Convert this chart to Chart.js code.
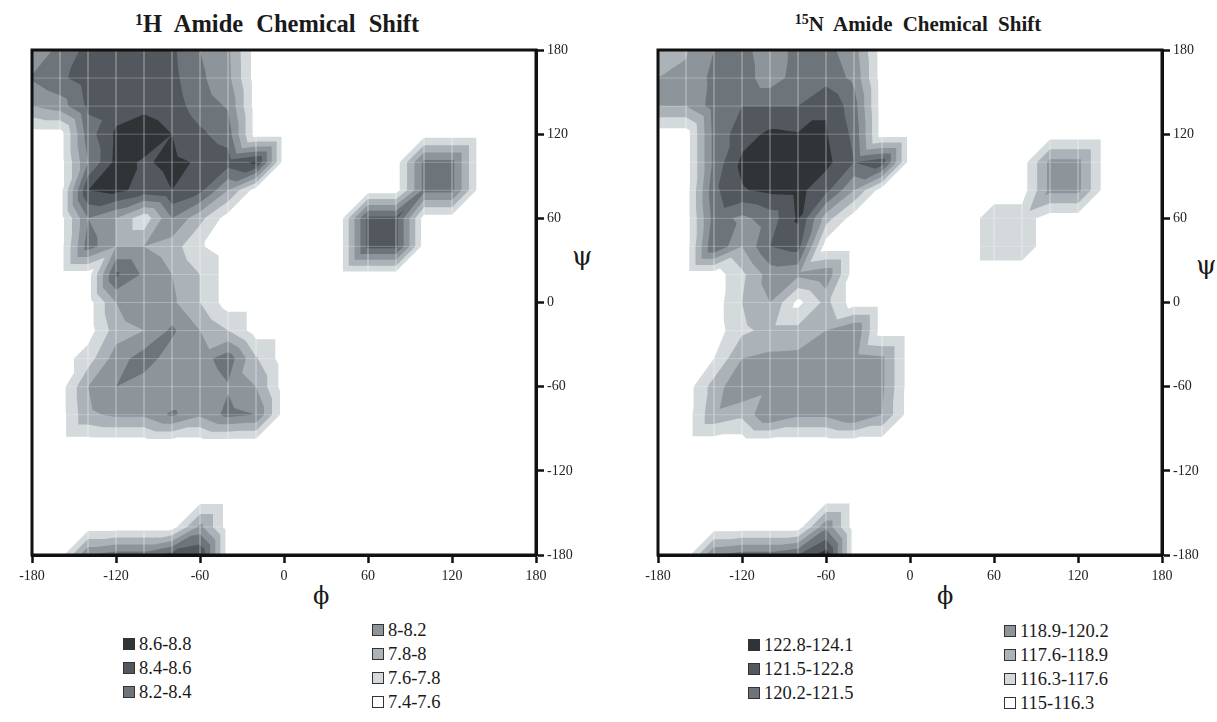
<!DOCTYPE html>
<html>
<head>
<meta charset="utf-8">
<script src="https://cdn.jsdelivr.net/npm/chart.js@4.4.1/dist/chart.umd.min.js"></script>
<style>
  body { margin: 0; background: #fff; width: 1217px; height: 722px; overflow: hidden; position: relative;
         font-family: "Liberation Serif", "Times New Roman", serif; color: #1a1a1a; }
  canvas { position: absolute; top: 0; }
  .title { position: absolute; width: 560px; text-align: center; font-weight: bold; white-space: pre; }
  .title sup { vertical-align: 7px; line-height: 0; }
  .sym { position: absolute; line-height: 1; font-family: "DejaVu Serif", "Liberation Serif", serif; }
  .lg { position: absolute; font-size: 18.5px; line-height: 18px; white-space: nowrap; }
  .lg span { display: inline-block; width: 10px; height: 10px; border: 1px solid #333; margin-right: 4px; vertical-align: 0px; }
</style>
</head>
<body>
<div class="title" style="left:-3px;top:12px;font-size:24.5px;line-height:24px;word-spacing:7px"><sup style="font-size:16px">1</sup>H Amide Chemical Shift</div>
<div class="title" style="left:638px;top:14px;font-size:21px;line-height:21px;word-spacing:5px"><sup style="font-size:14px">15</sup>N Amide Chemical Shift</div>
<div class="sym" style="left:313px;top:584px;font-size:24px">ϕ</div>
<div class="sym" style="left:937px;top:584px;font-size:24px">ϕ</div>
<div class="sym" style="left:572px;top:243px;font-size:26px">ψ</div>
<div class="sym" style="left:1196px;top:252px;font-size:26px">ψ</div>
<canvas id="hChart" width="591" height="600" style="left:0"></canvas>
<canvas id="nChart" width="591" height="600" style="left:626px"></canvas>
<script>
// grid nodes (degrees)
const phiValues = [-180,-160,-140,-120,-100,-80,-60,-40,-20,0,20,40,60,80,100,120,140,160,180]
const psiValues = [180,160,140,120,100,80,60,40,20,0,-20,-40,-60,-80,-100,-120,-140,-160,-180]

// contour band limits + legend text
const hEdges = [7.4, 7.6, 7.8, 8.0, 8.2, 8.4, 8.6, 8.8]
const nEdges = [115, 116.3, 117.6, 118.9, 120.2, 121.5, 122.8, 124.1]
const hLabels = ['7.4-7.6', '7.6-7.8', '7.8-8', '8-8.2', '8.2-8.4', '8.4-8.6', '8.6-8.8']
const nLabels = ['115-116.3', '116.3-117.6', '117.6-118.9', '118.9-120.2', '120.2-121.5', '121.5-122.8', '122.8-124.1']
const bandColors = ['#ffffff', '#d4d9dc', '#abb3b8', '#8d959a', '#6e757a', '#52585d', '#2f3437']

// 1H shift (ppm) at each node, rows = psi 180 .. -180, cols = phi -180 .. 180
const hShift = [
  [8.04,8.26,8.46,8.46,8.46,8.44,8.20,8.04,7.5,7.5,7.5,7.5,7.5,7.5,7.5,7.5,7.5,7.5,7.5],
  [8.22,8.36,8.50,8.50,8.50,8.46,8.24,8.06,7.5,7.5,7.5,7.5,7.5,7.5,7.5,7.5,7.5,7.5,7.5],
  [8.00,8.10,8.44,8.50,8.56,8.50,8.30,8.18,7.5,7.5,7.5,7.5,7.5,7.5,7.5,7.5,7.5,7.5,7.5],
  [7.5,7.5,8.30,8.64,8.70,8.60,8.44,8.30,7.5,7.5,7.5,7.5,7.5,7.5,7.5,7.5,7.5,7.5,7.5],
  [7.5,7.5,8.20,8.66,8.58,8.64,8.58,8.50,8.64,7.5,7.5,7.5,7.5,7.5,8.26,8.26,7.5,7.5,7.5],
  [7.5,7.5,8.60,8.66,8.52,8.60,8.46,8.00,7.5,7.5,7.5,7.5,7.5,7.5,8.26,8.26,7.5,7.5,7.5],
  [7.5,7.5,8.20,8.00,7.66,8.20,7.86,7.5,7.5,7.5,7.5,7.5,8.46,8.46,7.5,7.5,7.5,7.5,7.5],
  [7.5,7.5,8.30,8.00,8.00,7.90,7.62,7.5,7.5,7.5,7.5,7.5,8.46,8.46,7.5,7.5,7.5,7.5,7.5],
  [7.5,7.5,7.5,8.44,8.16,8.00,7.80,7.5,7.5,7.5,7.5,7.5,7.5,7.5,7.5,7.5,7.5,7.5,7.5],
  [7.5,7.5,7.5,8.00,8.20,8.04,7.80,7.5,7.5,7.5,7.5,7.5,7.5,7.5,7.5,7.5,7.5,7.5,7.5],
  [7.5,7.5,7.5,7.90,8.00,8.24,8.00,7.80,7.5,7.5,7.5,7.5,7.5,7.5,7.5,7.5,7.5,7.5,7.5],
  [7.5,7.5,7.70,8.10,8.30,8.10,8.10,8.32,7.82,7.5,7.5,7.5,7.5,7.5,7.5,7.5,7.5,7.5,7.5],
  [7.5,7.5,8.00,8.20,8.10,8.00,8.00,8.18,8.00,7.5,7.5,7.5,7.5,7.5,7.5,7.5,7.5,7.5,7.5],
  [7.5,7.5,7.96,8.04,8.04,8.24,8.04,8.26,8.20,7.5,7.5,7.5,7.5,7.5,7.5,7.5,7.5,7.5,7.5],
  [7.5,7.5,7.5,7.5,7.5,7.5,7.5,7.5,7.5,7.5,7.5,7.5,7.5,7.5,7.5,7.5,7.5,7.5,7.5],
  [7.5,7.5,7.5,7.5,7.5,7.5,7.5,7.5,7.5,7.5,7.5,7.5,7.5,7.5,7.5,7.5,7.5,7.5,7.5],
  [7.5,7.5,7.5,7.5,7.5,7.5,7.5,7.5,7.5,7.5,7.5,7.5,7.5,7.5,7.5,7.5,7.5,7.5,7.5],
  [7.5,7.5,7.5,7.5,7.5,7.5,8.06,7.5,7.5,7.5,7.5,7.5,7.5,7.5,7.5,7.5,7.5,7.5,7.5],
  [7.5,7.5,8.20,8.30,8.30,8.50,8.60,7.5,7.5,7.5,7.5,7.5,7.5,7.5,7.5,7.5,7.5,7.5,7.5]
]

// 15N shift (ppm), same layout
const nShift = [
  [118.2,118.8,120.2,120.6,119.5,120.6,120.6,119.5,115.6,115.6,115.6,115.6,115.6,115.6,115.6,115.6,115.6,115.6,115.6],
  [118.9,119.1,120.6,120.8,119.5,120.8,121.0,119.9,115.6,115.6,115.6,115.6,115.6,115.6,115.6,115.6,115.6,115.6,115.6],
  [118.9,118.9,120.8,121.5,121.5,121.5,122.7,120.8,115.6,115.6,115.6,115.6,115.6,115.6,115.6,115.6,115.6,115.6,115.6],
  [115.6,115.6,120.6,122.2,123.1,122.9,122.9,121.2,115.6,115.6,115.6,115.6,115.6,115.6,115.6,115.6,115.6,115.6,115.6],
  [115.6,115.6,120.6,123.1,123.6,123.5,123.2,121.5,122.3,115.6,115.6,115.6,115.6,115.6,119.3,119.3,115.6,115.6,115.6],
  [115.6,115.6,121.2,122.7,123.1,123.2,121.9,118.9,115.6,115.6,115.6,115.6,115.6,115.6,119.3,119.3,115.6,115.6,115.6],
  [115.6,115.6,120.8,119.9,120.8,123.0,118.2,115.6,115.6,115.6,115.6,115.6,117.0,117.0,115.6,115.6,115.6,115.6,115.6],
  [115.6,115.6,121.5,118.9,121.5,122.0,115.6,115.6,115.6,115.6,115.6,115.6,117.0,117.0,115.6,115.6,115.6,115.6,115.6],
  [115.6,115.6,115.6,117.3,119.5,119.2,119.9,115.6,115.6,115.6,115.6,115.6,115.6,115.6,115.6,115.6,115.6,115.6,115.6],
  [115.6,115.6,115.6,117.6,118.9,115.9,118.0,115.6,115.6,115.6,115.6,115.6,115.6,115.6,115.6,115.6,115.6,115.6,115.6],
  [115.6,115.6,115.6,117.3,118.0,118.0,118.9,120.2,115.6,115.6,115.6,115.6,115.6,115.6,115.6,115.6,115.6,115.6,115.6],
  [115.6,115.6,116.3,118.9,119.2,119.3,119.3,119.5,119.2,115.6,115.6,115.6,115.6,115.6,115.6,115.6,115.6,115.6,115.6],
  [115.6,115.6,118.2,120.1,119.3,119.3,119.3,119.3,119.2,115.6,115.6,115.6,115.6,115.6,115.6,115.6,115.6,115.6,115.6],
  [115.6,115.6,118.6,117.9,120.2,119.2,119.2,120.2,118.9,115.6,115.6,115.6,115.6,115.6,115.6,115.6,115.6,115.6,115.6],
  [115.6,115.6,115.6,115.6,115.6,115.6,115.6,115.6,115.6,115.6,115.6,115.6,115.6,115.6,115.6,115.6,115.6,115.6,115.6],
  [115.6,115.6,115.6,115.6,115.6,115.6,115.6,115.6,115.6,115.6,115.6,115.6,115.6,115.6,115.6,115.6,115.6,115.6,115.6],
  [115.6,115.6,115.6,115.6,115.6,115.6,115.6,115.6,115.6,115.6,115.6,115.6,115.6,115.6,115.6,115.6,115.6,115.6,115.6],
  [115.6,115.6,115.6,115.6,115.6,115.6,119.9,115.6,115.6,115.6,115.6,115.6,115.6,115.6,115.6,115.6,115.6,115.6,115.6],
  [115.6,115.6,120.2,120.8,120.8,121.5,123.5,115.6,115.6,115.6,115.6,115.6,115.6,115.6,115.6,115.6,115.6,115.6,115.6]
]

// keep the part of a polygon where v >= t (linear along edges)
function clipAbove(poly, t) {
  const out = []
  for (let m = 0; m < poly.length; m++) {
    const p = poly[m], q = poly[(m + 1) % poly.length]
    const pin = p.v >= t, qin = q.v >= t
    if (pin) out.push(p)
    if (pin !== qin) {
      const f = (t - p.v) / (q.v - p.v)
      out.push({ px: p.px + f * (q.px - p.px), py: p.py + f * (q.py - p.py), v: t })
    }
  }
  return out
}

// filled contour plot drawn from the dataset nodes through the chart scales
const contourPlugin = {
  id: 'contour',
  beforeDatasetsDraw(chart, args, opts) {
    const { ctx, chartArea: a, scales } = chart
    const nodes = chart.data.datasets[0].data
    const nx = phiValues.length, ny = psiValues.length
    const P = (i, j) => {
      const d = nodes[j * nx + i]
      return { px: scales.x.getPixelForValue(d.x), py: scales.y.getPixelForValue(d.y), v: d.v }
    }
    const tris = []
    for (let j = 0; j < ny - 1; j++) {
      for (let i = 0; i < nx - 1; i++) {
        const tl = P(i, j), tr = P(i + 1, j), bl = P(i, j + 1), br = P(i + 1, j + 1)
        tris.push([bl, br, tr], [bl, tr, tl])
      }
    }
    ctx.save()
    ctx.beginPath()
    ctx.rect(a.left, a.top, a.width, a.height)
    ctx.clip()
    for (let k = 1; k < opts.edges.length - 1; k++) {
      ctx.beginPath()
      for (const t of tris) {
        const poly = clipAbove(t, opts.edges[k])
        if (poly.length < 3) continue
        ctx.moveTo(poly[0].px, poly[0].py)
        for (let m = 1; m < poly.length; m++) ctx.lineTo(poly[m].px, poly[m].py)
        ctx.closePath()
      }
      ctx.fillStyle = bandColors[k]
      ctx.fill()
    }
    // light wireframe of the data grid
    ctx.strokeStyle = 'rgba(255,255,255,0.33)'
    ctx.lineWidth = 0.8
    ctx.beginPath()
    for (let i = 0; i < nx; i++) {
      const px = scales.x.getPixelForValue(phiValues[i])
      ctx.moveTo(px, a.top); ctx.lineTo(px, a.bottom)
    }
    for (let j = 0; j < ny; j++) {
      const py = scales.y.getPixelForValue(psiValues[j])
      ctx.moveTo(a.left, py); ctx.lineTo(a.right, py)
    }
    for (const t of tris) {
      if (t[1].px === t[2].px) continue
      ctx.moveTo(t[0].px, t[0].py); ctx.lineTo(t[2].px, t[2].py)
    }
    ctx.stroke()
    ctx.restore()
  },
  afterDraw(chart) {
    const { ctx, chartArea: a } = chart
    ctx.save()
    ctx.strokeStyle = '#111'
    ctx.lineWidth = 3
    ctx.strokeRect(a.left, a.top, a.width, a.height)
    ctx.restore()
  }
}

function makeNodes(grid) {
  const pts = []
  psiValues.forEach((psi, j) => phiValues.forEach((phi, i) => pts.push({ x: phi, y: psi, v: grid[j][i] })))
  return pts
}

const tickFont = { family: 'Liberation Serif', size: 14 }

function makeChart(id, grid, edges) {
  return new Chart(document.getElementById(id), {
    type: 'scatter',
    data: { datasets: [{ data: makeNodes(grid), pointRadius: 0, pointHoverRadius: 0 }] },
    options: {
      responsive: false,
      animation: false,
      events: [],
      layout: { padding: { left: 32, top: 50, right: 0, bottom: 0 } },
      plugins: { legend: { display: false }, tooltip: { enabled: false }, contour: { edges: edges } },
      scales: {
        x: {
          type: 'linear', min: -180, max: 180,
          ticks: { stepSize: 60, font: tickFont, color: '#222', padding: 5, maxRotation: 0 },
          grid: { drawOnChartArea: false, drawTicks: true, tickLength: 8, tickWidth: 2.5, tickColor: '#111' },
          border: { display: true, width: 3, color: '#111' },
          afterFit: s => { s.height = 45 }
        },
        y: {
          type: 'linear', position: 'right', min: -180, max: 180,
          ticks: { stepSize: 60, font: tickFont, color: '#222', padding: 3 },
          grid: { drawOnChartArea: false, drawTicks: true, tickLength: 8, tickWidth: 2.5, tickColor: '#111' },
          border: { display: true, width: 3, color: '#111' },
          afterFit: s => { s.width = 55 }
        }
      }
    },
    plugins: [contourPlugin]
  })
}

makeChart('hChart', hShift, hEdges)
makeChart('nChart', nShift, nEdges)

// legends: two columns, darkest bands first
function makeLegend(labels, col1x, col1y, col2x, col2y) {
  const place = (k, x, y) => {
    const d = document.createElement('div')
    d.className = 'lg'
    d.style.left = x + 'px'
    d.style.top = y + 'px'
    d.innerHTML = '<span style="background:' + bandColors[k] + '"></span>' + labels[k]
    document.body.appendChild(d)
  }
  ;[6, 5, 4].forEach((k, r) => place(k, col1x, col1y + r * 24))
  ;[3, 2, 1, 0].forEach((k, r) => place(k, col2x, col2y + r * 24))
}
makeLegend(hLabels, 123, 635, 372, 621)
makeLegend(nLabels, 748, 636, 1004, 622)
</script>
</body>
</html>
